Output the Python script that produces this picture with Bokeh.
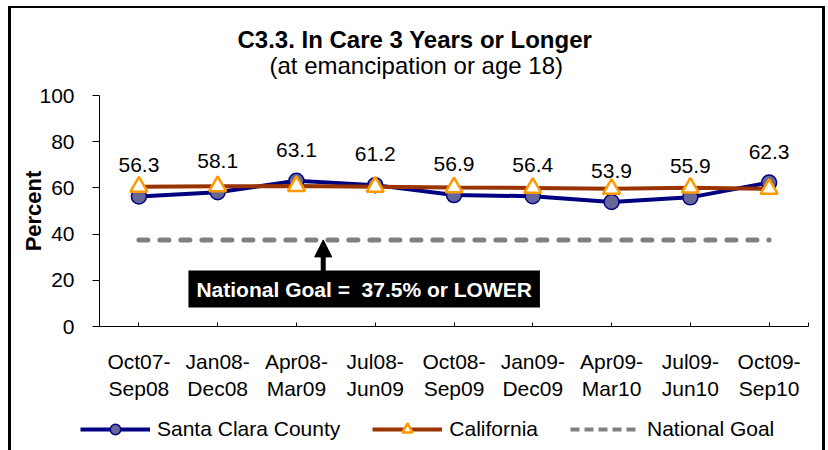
from bokeh.plotting import figure
from bokeh.models import (ColumnDataSource, FixedTicker, Legend, LegendItem, Label,
                          Arrow, NormalHead, Title)
from bokeh.layouts import column
from bokeh.core.properties import value
from bokeh.embed import file_html
from bokeh.resources import INLINE

categories = ["Oct07-\nSep08", "Jan08-\nDec08", "Apr08-\nMar09", "Jul08-\nJun09",
              "Oct08-\nSep09", "Jan09-\nDec09", "Apr09-\nMar10", "Jul09-\nJun10",
              "Oct09-\nSep10"]
santa_clara = [56.3, 58.1, 63.1, 61.2, 56.9, 56.4, 53.9, 55.9, 62.3]
california = [60.5, 60.7, 60.8, 60.5, 60.2, 60.0, 59.6, 60.1, 59.6]
national_goal = [37.5] * len(categories)
y_ticks = [0, 20, 40, 60, 80, 100]
series_names = ["Santa Clara County", "California", "National Goal"]

title_text = "C3.3. In Care 3 Years or Longer"
subtitle_text = "(at emancipation or age 18)"
goal_text = "National Goal =\u00a0 37.5% or LOWER"

FONT = "Liberation Sans"
SC_LINE, SC_FILL = "#000080", "#666699"
CA_LINE, CA_MARK = "#993300", "#FF9900"
GOAL = "#808080"

xs = [i + 0.5 for i in range(len(categories))]
src = ColumnDataSource(dict(x=xs, sc=santa_clara, ca=california, goal=national_goal,
                            lbl=[f"{v:.1f}" for v in santa_clara]))

p = figure(width=828, height=408, x_range=(0, len(categories)), y_range=(0, 100),
           output_backend="svg", toolbar_location=None,
           min_border_left=99, min_border_right=20, min_border_top=95,
           min_border_bottom=82)
p.border_fill_alpha = 0
p.styles = {
    "background": ("linear-gradient(#000,#000) 8px 6px / 3px 402px no-repeat, "
                   "linear-gradient(#000,#000) 8px 6px / 817px 2px no-repeat, "
                   "linear-gradient(#000,#000) 822px 6px / 3px 402px no-repeat")
}
p.xgrid.visible = False
p.ygrid.visible = False
p.outline_line_color = None
p.background_fill_color = "white"

# axes
p.xaxis.ticker = FixedTicker(ticks=xs + [len(categories)])
ov = {x: c for x, c in zip(xs, categories)}
ov[len(categories)] = ""
p.xaxis.major_label_overrides = ov
p.xaxis.major_tick_in = 4
p.xaxis.major_tick_out = 0
p.xaxis.minor_tick_line_color = None
p.xaxis.major_label_text_font = FONT
p.xaxis.major_label_text_font_size = "21px"
p.xaxis.major_label_text_color = "black"
p.xaxis.major_label_standoff = 23
p.xaxis.axis_line_color = "black"

p.yaxis.ticker = FixedTicker(ticks=y_ticks)
p.yaxis.major_tick_in = 0
p.yaxis.major_tick_out = 7
p.yaxis.minor_tick_line_color = None
p.yaxis.major_label_text_font = FONT
p.yaxis.major_label_text_font_size = "21px"
p.yaxis.major_label_text_color = "black"
p.yaxis.major_label_standoff = 18
p.yaxis.axis_label = "Percent"
p.yaxis.axis_label_text_font = FONT
p.yaxis.axis_label_text_font_size = "22px"
p.yaxis.axis_label_text_font_style = "bold"
p.yaxis.axis_label_text_color = "black"
p.yaxis.axis_label_standoff = -10
p.yaxis.axis_line_color = "black"

# series
p.line("x", "goal", source=src, line_color=GOAL, line_width=5,
       line_dash="9 12", line_cap="round")
p.line("x", "sc", source=src, line_color=SC_LINE, line_width=4)
p.scatter("x", "sc", source=src, marker="circle", size=15,
          fill_color=SC_FILL, line_color=SC_LINE, line_width=1.5)
p.line("x", "ca", source=src, line_color=CA_LINE, line_width=4)
p.scatter("x", "ca", source=src, marker="triangle", size=17,
          fill_color="white", line_color=CA_MARK, line_width=2.5)

p.text("x", "sc", text="lbl", source=src, text_align="center",
       text_baseline="middle", y_offset=-31, text_font=value(FONT),
       text_font_size="21px", text_color="black")

# national goal annotation
arrow_x = 2.84
p.add_layout(Arrow(end=NormalHead(size=17, fill_color="black", line_color="black"),
                   x_start=arrow_x, y_start=22.5, x_end=arrow_x, y_end=national_goal[0],
                   line_width=5, line_color="black"))
p.add_layout(Label(x=3.36, y=16.2, text=goal_text, text_align="center",
                   text_baseline="middle", text_font=FONT, text_font_size="21px",
                   text_font_style="bold", text_color="white",
                   background_fill_color="black", padding=(8, 7)))

# titles (first added sits closest to the plot)
p.add_layout(Title(text=subtitle_text, align="left", offset=170, standoff=33,
                   text_font=FONT, text_font_size="24px", text_font_style="normal",
                   text_color="black"), "above")
p.add_layout(Title(text=title_text, align="left", offset=138, standoff=-38,
                   text_font=FONT, text_font_size="24px", text_font_style="bold",
                   text_color="black"), "above")

# legend strip below the chart (its proxy glyphs sit outside its own view)
q = figure(width=828, height=42, x_range=(-2, -1), y_range=(-2, -1),
           output_backend="svg", toolbar_location=None,
           x_axis_type=None, y_axis_type=None,
           min_border_left=0, min_border_right=0, min_border_top=0, min_border_bottom=0)
q.border_fill_alpha = 0
q.background_fill_color = None
q.outline_line_color = None
q.xgrid.visible = False
q.ygrid.visible = False
q.styles = {
    "background": ("linear-gradient(#000,#000) 8px 0px / 3px 42px no-repeat, "
                   "linear-gradient(#000,#000) 822px 0px / 3px 42px no-repeat")
}
for fig in (p, q):
    if "frame_align" in fig.properties():
        fig.frame_align = False

l1 = q.line("x", "sc", source=src, line_color=SC_LINE, line_width=4)
m1 = q.scatter("x", "sc", source=src, marker="circle", size=15, fill_color=SC_FILL,
               line_color=SC_LINE, line_width=1.5)
l2 = q.line("x", "ca", source=src, line_color=CA_LINE, line_width=4)
m2 = q.scatter("x", "ca", source=src, marker="triangle", size=17, fill_color="white",
               line_color=CA_MARK, line_width=2.5)
l3 = q.line("x", "goal", source=src, line_color=GOAL, line_width=4, line_dash="9 5")

legend = Legend(items=[LegendItem(label=series_names[0], renderers=[l1, m1]),
                       LegendItem(label=series_names[1], renderers=[l2, m2]),
                       LegendItem(label=series_names[2], renderers=[l3])],
                orientation="horizontal", location=(80, 8), glyph_width=70,
                glyph_height=26, label_standoff=7, spacing=32, padding=0, margin=0,
                border_line_color=None, background_fill_alpha=0,
                label_text_font=FONT, label_text_font_size="21px",
                label_text_color="black")
q.add_layout(legend, "center")

layout = column(p, q, spacing=0)
open("out.html", "w").write(file_html(layout, INLINE))
